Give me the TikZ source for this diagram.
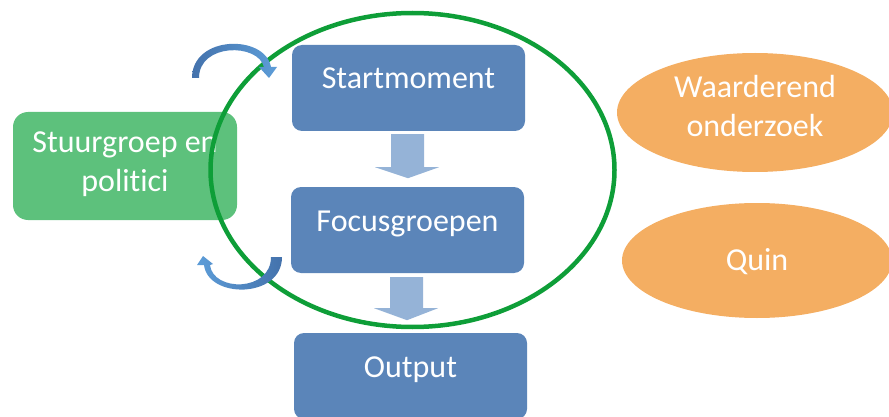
\documentclass[tikz,border=0pt]{standalone}
\usepackage{fontspec}
\setmainfont[RawFeature=-liga]{Carlito}
\usetikzlibrary{shapes.geometric}
\definecolor{boxblue}{RGB}{91,133,185}
\definecolor{arrowblue}{RGB}{149,179,215}
\definecolor{boxgreen}{RGB}{93,193,124}
\definecolor{ringgreen}{RGB}{14,158,56}
\definecolor{ovalorange}{RGB}{244,174,98}
\definecolor{curvedark}{RGB}{68,114,172}
\definecolor{curvelight}{RGB}{93,157,216}
\tikzset{
  txt/.style={text=white, font=\fontsize{32}{38}\selectfont, inner sep=0pt},
  bluebox/.style={fill=boxblue, rounded corners=10pt, minimum width=233pt, minimum height=86pt,
    inner sep=0pt, txt, text height=12pt, text depth=10pt},
  greenbox/.style={fill=boxgreen, rounded corners=15pt, minimum width=224pt, minimum height=108pt, inner sep=0pt},
  oval/.style={ellipse, fill=ovalorange, inner sep=0pt},
  ring/.style={ellipse, draw=ringgreen, line width=4.5pt, inner sep=0pt},
  blockarrow/.style={fill=arrowblue},
}
\begin{document}
\begin{tikzpicture}[x=1pt,y=-1pt]
\useasboundingbox (0,0) rectangle (889,417);
\clip (0,0) rectangle (889,417);
% left green box
\node (stuur) [greenbox] at (125,166) {};
\node (stuurA) [txt, anchor=base] at (125,153) {Stuurgroep en};
\node (stuurB) [txt, anchor=base] at (125,191) {politici};
% blue boxes
\node (start) [bluebox] at (408.5,88) {Startmoment};
\node (focus) [bluebox] at (407.5,230) {Focusgroepen};
\node (output) [bluebox] at (410.5,376) {Output};
% orange ovals
\node (waard) [oval, minimum width=276pt, minimum height=119pt] at (755,112.5) {};
\node (waardA) [txt, anchor=base] at (755,98) {Waarderend};
\node (waardB) [txt, anchor=base] at (755,137) {onderzoek};
\node (quin) [oval, minimum width=270pt, minimum height=115pt] at (757,260.5) {};
\node (quinT) [txt, anchor=base] at (757,270) {Quin};
% green ring
\node (ring) [ring, minimum width=404pt, minimum height=314pt] at (412.5,170) {};
% block arrows
\path[blockarrow] (start.south) ++(-17.5,3) coordinate (a1)
  -- ++(33,0) -- ++(0,33) -- ++(15,0) -- ++(-31,11) -- ++(-33,-11) -- ++(16,0) -- cycle;
\path[blockarrow] (focus.south) ++(-17.5,4) coordinate (a2)
  -- ++(33,0) -- ++(0,31) -- ++(15,0) -- ++(-31,12) -- ++(-33,-12) -- ++(16,0) -- cycle;
% curved arrows
\shade[left color=curvedark, right color=curvelight]
  (192,78) .. controls (192,35) and (265,34) .. (271,67)
  -- (277,67) -- (269,78) -- (259,67) -- (264,67)
  .. controls (258,43) and (199,43) .. (199,78) -- cycle;
\shade[left color=curvelight, right color=curvedark]
  (282,257) .. controls (282,299) and (208,299) .. (204,265)
  -- (197,265) -- (203,256) -- (213,264) -- (210,265)
  .. controls (213,292) and (271,292) .. (271,257) -- cycle;
\end{tikzpicture}
\end{document}
